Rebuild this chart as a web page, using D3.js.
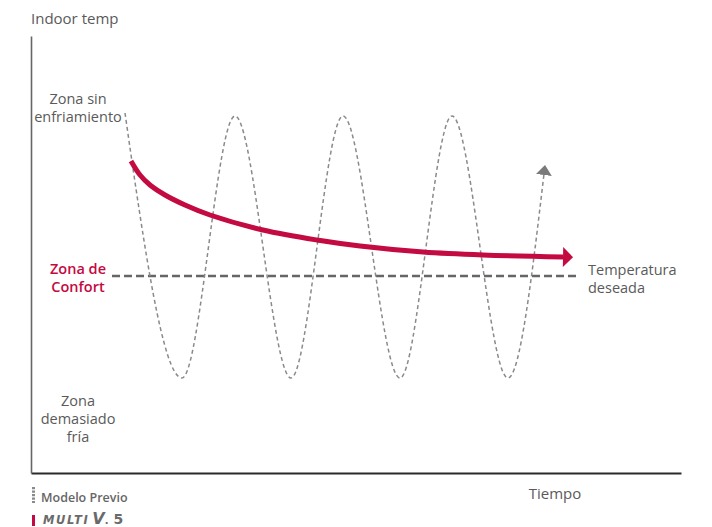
<!DOCTYPE html>
<html>
<head>
<meta charset="utf-8">
<script src="https://cdn.jsdelivr.net/npm/d3@7/dist/d3.min.js"></script>
<style>
  html, body { margin: 0; padding: 0; background: #fff; }
  svg { display: block; font-family: "Open Sans", "Noto Sans", sans-serif; }
</style>
</head>
<body>
<svg id="chart" width="712" height="527"></svg>
<script>
// ---- data (time 0-100, indoor temp index 0-100) ----
const oscTime = [14.46, 23.23, 31.38, 40.0, 48.0, 56.77, 64.77, 73.38, 78.92];
const oscTemp = [82.38, 21.74, 81.69, 21.74, 81.69, 21.74, 81.69, 21.74, 68.42];

const newTime = [15.38, 16.77, 18.31, 20.62, 23.69, 27.54, 35.69, 44.0, 50.62, 60.31, 69.54, 81.85];
const newTemp = [71.40, 68.19, 65.90, 63.62, 61.33, 59.04, 55.61, 53.32, 51.95, 50.57, 49.89, 49.43];

const setpointTime = [12.46, 84.46];
const setpointTemp = [45.08, 45.08];

const zoneLabels = [
  { lines: ["Zona sin", "enfriamiento"], temp: 84.4, cls: "grey" },
  { lines: ["Zona de", "Confort"], temp: 45.5, cls: "red" },
  { lines: ["Zona", "demasiado", "fría"], temp: 15.4, cls: "grey" }
];
const setpointLabel = ["Temperatura", "deseada"];
const yTitle = "Indoor temp";
const xTitle = "Tiempo";
const legendItems = ["Modelo Previo", "MULTI V. 5"];

// ---- drawing ----
const svg = d3.select("#chart");
const x = d3.scaleLinear().domain([0, 100]).range([31, 681]);
const y = d3.scaleLinear().domain([0, 100]).range([473, 36]);

const RED = "#c30a41";
const GREY_TXT = "#5a5a5a";

const defs = svg.append("defs");
defs.append("marker").attr("id", "arrRed")
  .attr("viewBox", "0 0 10 20").attr("refX", 0).attr("refY", 10)
  .attr("markerWidth", 11).attr("markerHeight", 20)
  .attr("markerUnits", "userSpaceOnUse").attr("orient", "auto")
  .append("path").attr("d", "M0,0L10,10L0,20Z").attr("fill", RED);
defs.append("marker").attr("id", "arrGrey")
  .attr("viewBox", "0 0 10 16").attr("refX", 1).attr("refY", 8)
  .attr("markerWidth", 10).attr("markerHeight", 16)
  .attr("markerUnits", "userSpaceOnUse").attr("orient", "auto")
  .append("path").attr("d", "M0,0L10,8L0,16Z").attr("fill", "#7a7a7a");

// axes
const gx = svg.append("g").attr("transform", `translate(0,${y(0)})`)
  .call(d3.axisBottom(x).tickValues([]).tickSizeOuter(0));
gx.select(".domain").attr("stroke", "#2a2a2a").attr("stroke-width", 2);
const gy = svg.append("g").attr("transform", `translate(${x(0)},0)`)
  .call(d3.axisLeft(y).tickValues([]).tickSizeOuter(0));
gy.select(".domain").attr("stroke", "#666").attr("stroke-width", 1.6);

// setpoint dashed line
svg.append("path")
  .datum(setpointTime.map((t, i) => [t, setpointTemp[i]]))
  .attr("d", d3.line().x(d => x(d[0])).y(d => y(d[1])))
  .attr("stroke", "#666").attr("stroke-width", 2.5)
  .attr("stroke-dasharray", "8,4").attr("fill", "none");

// oscillating previous model
svg.append("path")
  .datum(oscTime.map((t, i) => [t, oscTemp[i]]))
  .attr("d", d3.line().x(d => x(d[0])).y(d => y(d[1])).curve(d3.curveMonotoneX))
  .attr("stroke", "#8a8a8a").attr("stroke-width", 1.5)
  .attr("stroke-dasharray", "4,3").attr("fill", "none")
  .attr("marker-end", "url(#arrGrey)");

// new model curve
svg.append("path")
  .datum(newTime.map((t, i) => [t, newTemp[i]]))
  .attr("d", d3.line().x(d => x(d[0])).y(d => y(d[1])).curve(d3.curveCatmullRom.alpha(0.5)))
  .attr("stroke", RED).attr("stroke-width", 5).attr("fill", "none")
  .attr("marker-end", "url(#arrRed)");

// zone labels
zoneLabels.forEach(z => {
  const t = svg.append("text")
    .attr("x", 78).attr("y", y(z.temp))
    .attr("text-anchor", "middle")
    .attr("font-size", 14.5)
    .attr("fill", z.cls === "red" ? RED : GREY_TXT)
    .attr("font-weight", z.cls === "red" ? 600 : 400);
  z.lines.forEach((l, i) => t.append("tspan").attr("x", 78).attr("dy", i === 0 ? 0 : 18).text(l));
});

// setpoint label
const sl = svg.append("text").attr("x", 588).attr("y", y(setpointTemp[0]) - 1)
  .attr("font-size", 14.5).attr("fill", GREY_TXT);
setpointLabel.forEach((l, i) => sl.append("tspan").attr("x", 588).attr("dy", i === 0 ? 0 : 18).text(l));

// axis titles
svg.append("text").attr("x", 31).attr("y", 24).attr("font-size", 15)
  .attr("fill", GREY_TXT).text(yTitle);
svg.append("text").attr("x", 555).attr("y", 499).attr("text-anchor", "middle")
  .attr("font-size", 15).attr("fill", GREY_TXT).text(xTitle);

// legend
svg.append("line").attr("x1", 33.5).attr("x2", 33.5).attr("y1", 487).attr("y2", 503)
  .attr("stroke", "#8a8a8a").attr("stroke-width", 3).attr("stroke-dasharray", "2.2,1.3");
svg.append("text").attr("x", 41).attr("y", 502).attr("font-size", 12.5)
  .attr("font-weight", 600).attr("fill", "#666").text(legendItems[0]);

svg.append("rect").attr("x", 32).attr("y", 515).attr("width", 3).attr("height", 11).attr("fill", RED);
const lg = svg.append("text").attr("x", 43).attr("y", 524).attr("fill", "#6a6a6a")
  .attr("font-family", "'DejaVu Sans', sans-serif");
const parts = legendItems[1].split(" ");
lg.append("tspan").attr("font-size", 11.5).attr("font-weight", 800).attr("font-style", "italic")
  .attr("letter-spacing", 1.6).text(parts[0]);
lg.append("tspan").attr("dx", 3).attr("font-size", 16).attr("font-weight", 800).attr("font-style", "italic")
  .text(parts[1].charAt(0));
lg.append("tspan").attr("font-size", 10).attr("font-weight", 800).text(parts[1].slice(1));
lg.append("tspan").attr("dx", 5).attr("font-size", 14).attr("font-weight", 800).text(parts[2]);
</script>
</body>
</html>
